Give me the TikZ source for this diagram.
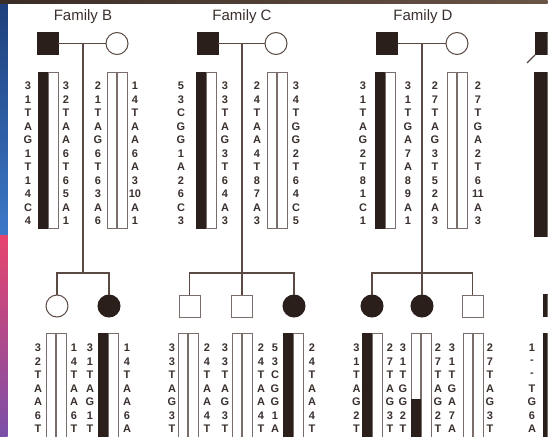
\documentclass[tikz,border=0pt]{standalone}
\usepackage{fontspec}
\setmainfont{Liberation Sans}
\definecolor{ink}{HTML}{2A1F1B}
\definecolor{txt}{HTML}{3A302D}
\definecolor{ln}{HTML}{5B4943}
\definecolor{edge}{HTML}{7A6E6B}
\definecolor{bluetop}{HTML}{1E3F7A}
\definecolor{bluebot}{HTML}{3C78C8}
\definecolor{pinktop}{HTML}{E8446E}
\definecolor{purplebot}{HTML}{7A4FA8}
\definecolor{bandl}{HTML}{3A2C26}
\definecolor{bandr}{HTML}{6A5446}
\tikzset{
 lbl/.style={font=\bfseries\fontsize{11}{12}\selectfont, text=txt, inner sep=0pt, anchor=center},
 fam/.style={font=\fontsize{15}{17}\selectfont, text=txt, inner sep=0pt, anchor=base},
 male/.style={rectangle, draw=edge, line width=0.8pt, minimum width=21pt, minimum height=22pt, inner sep=0pt},
 female/.style={circle, draw=ln, line width=1pt, minimum size=22pt, inner sep=0pt},
 aff/.style={fill=ink, draw=ink},
 link/.style={draw=ln, line width=1.2pt},
 chr/.style={draw=edge, line width=0.8pt, fill=white},
 chrb/.style={draw=ink, line width=0.8pt, fill=ink},
}
\newcommand\seqcol[4]{\foreach \sq [count=\kk from 0] in {#4}{\node[lbl] (#1-\kk) at (#2,#3+13.5*\kk) {\sq};}}
\newcommand\chpair[5]{\path[#4] (#1,#2) rectangle (#1+9.5,#3);\path[#5] (#1+10.5,#2) rectangle (#1+20,#3);}
\begin{document}
\begin{tikzpicture}[x=1pt,y=-1pt]
\useasboundingbox (0,0) rectangle (559,436);
\fill[white] (0,0) rectangle (559,436);
\begin{scope}
\clip (0,0) rectangle (547.5,436);
% background strips
\shade[top color=bluetop, bottom color=bluebot] (0,0) rectangle (7.5,235);
\shade[top color=pinktop, bottom color=purplebot] (0,235) rectangle (7.5,436);
\shade[left color=bandl, right color=bandr] (0,0) rectangle (547.5,4);
% ===== Family B =====
\node[fam] (tB) at (83,21) {Family B};
\node[male,aff] (fB) at (47.5,43.5) {};
\node[female] (mB) at (117,43.5) {};
\draw[link] (fB) -- (mB);
\coordinate (dB) at (83,43.5);
\coordinate (sB) at (83,273);
\draw[link] (dB) -- (sB);
\node[female] (cB1) at (57,306) {};
\node[female,aff] (cB2) at (109,306) {};
\draw[link] (cB1.north) |- (sB) -| (cB2.north);
\chpair{38}{72}{228}{chrb}{chr}
\chpair{107}{72}{228}{chr}{chr}
\seqcol{bfl}{28}{86}{3,1,T,A,G,1,T,1,4,C,4}
\seqcol{bfr}{66}{86}{3,2,T,A,A,6,T,6,5,A,1}
\seqcol{bml}{98}{86}{2,1,T,A,G,6,T,6,3,A,6}
\seqcol{bmr}{135}{86}{1,4,T,A,A,6,A,3,10,A,1}
\chpair{46}{333}{440}{chr}{chr}
\chpair{98}{333}{440}{chrb}{chr}
\seqcol{b1l}{38}{348}{3,2,T,A,A,6,T}
\seqcol{b1r}{74}{348}{1,4,T,A,A,6,T}
\seqcol{b2l}{90}{348}{3,1,T,A,G,1,T}
\seqcol{b2r}{127}{348}{1,4,T,A,A,6,A}
% ===== Family C =====
\node[fam] (tC) at (242,21) {Family C};
\node[male,aff] (fC) at (207.5,43.5) {};
\node[female] (mC) at (276,43.5) {};
\draw[link] (fC) -- (mC);
\coordinate (dC) at (242,43.5);
\coordinate (sC) at (242,273);
\draw[link] (dC) -- (sC);
\node[male] (cC1) at (189.5,306) {};
\node[male] (cC2) at (242,306) {};
\node[female,aff] (cC3) at (294,306) {};
\draw[link] (cC1.north) |- (sC) -| (cC3.north);
\draw[link] (sC) -- (cC2.north);
\chpair{196}{72}{228}{chrb}{chr}
\chpair{267}{72}{228}{chr}{chr}
\seqcol{cfl}{181}{86}{5,3,C,G,G,1,A,2,6,C,3}
\seqcol{cfr}{225}{86}{3,3,T,A,G,3,T,6,4,A,3}
\seqcol{cml}{257}{86}{2,4,T,A,A,4,T,8,7,A,3}
\seqcol{cmr}{296}{86}{3,4,T,G,G,2,T,6,4,C,5}
\chpair{178}{333}{440}{chr}{chr}
\chpair{232}{333}{440}{chr}{chr}
\chpair{283}{333}{440}{chrb}{chr}
\seqcol{c1l}{172}{348}{3,3,T,A,G,3,T}
\seqcol{c1r}{207}{348}{2,4,T,A,A,4,T}
\seqcol{c2l}{225}{348}{3,3,T,A,G,3,T}
\seqcol{c2r}{261}{348}{2,4,T,A,A,4,T}
\seqcol{c3l}{275}{348}{5,3,C,G,G,1,A}
\seqcol{c3r}{312}{348}{2,4,T,A,A,4,T}
% ===== Family D =====
\node[fam] (tD) at (423,21) {Family D};
\node[male,aff] (fD) at (387,43.5) {};
\node[female] (mD) at (457,43.5) {};
\draw[link] (fD) -- (mD);
\coordinate (dD) at (422,43.5);
\coordinate (sD) at (422,273);
\draw[link] (dD) -- (sD);
\node[female,aff] (cD1) at (372,306) {};
\node[female,aff] (cD2) at (422,306) {};
\node[male] (cD3) at (472.5,306) {};
\draw[link] (cD1.north) |- (sD) -| (cD3.north);
\draw[link] (sD) -- (cD2.north);
\chpair{375}{72}{228}{chrb}{chr}
\chpair{447}{72}{228}{chr}{chr}
\seqcol{dfl}{363}{86}{3,1,T,A,G,2,T,8,1,C,1}
\seqcol{dfr}{408}{86}{3,1,T,G,A,7,A,8,9,A,1}
\seqcol{dml}{435}{86}{2,7,T,A,G,3,T,5,2,A,3}
\seqcol{dmr}{478}{86}{2,7,T,G,A,2,T,6,11,A,3}
\chpair{362}{333}{440}{chrb}{chr}
\chpair{411}{333}{440}{chr}{chr}
\fill[ink] (411,399) rectangle (420.5,440);
\chpair{463}{333}{440}{chr}{chr}
\seqcol{d1l}{356.5}{348}{3,1,T,A,G,2,T}
\seqcol{d1r}{390}{348}{2,7,T,A,G,3,T}
\seqcol{d2l}{403}{348}{3,1,T,G,G,2,T}
\seqcol{d2r}{438}{348}{2,7,T,A,G,2,T}
\seqcol{d3l}{452}{348}{3,1,T,G,A,7,A}
\seqcol{d3r}{490}{348}{2,7,T,A,G,3,T}
% ===== partial family at right edge =====
\node[male,aff,anchor=west] (fE) at (535,43.5) {};
\coordinate (eL) at (527,63);
\draw[link] (eL) -- (fE.south west);
\fill[ink] (534,72) rectangle (548,237);
\node[male,aff,anchor=west] (cE) at (543,305) {};
\fill[ink] (543,333) rectangle (548,440);
\seqcol{e1l}{532}{348}{1,-,-,T,G,6,A}
\end{scope}
\end{tikzpicture}
\end{document}
